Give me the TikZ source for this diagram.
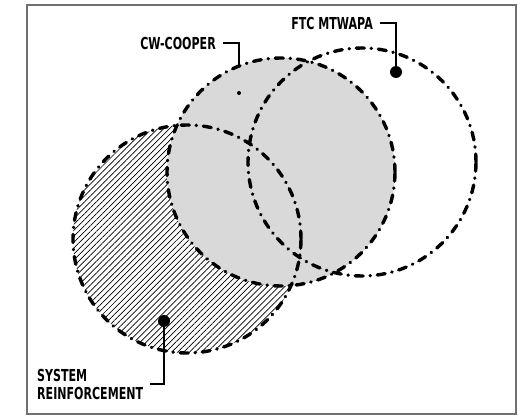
\documentclass[tikz,border=0pt]{standalone}
\usepackage{fontspec}
\setmainfont{DejaVu Sans}[FakeStretch=0.67]
\usetikzlibrary{patterns.meta}
\definecolor{VennFrame}{HTML}{707070}
\definecolor{VennGrey}{HTML}{D9D9D9}
\definecolor{VennInk}{HTML}{000000}
\tikzset{
  venn ring/.style={
    draw=VennInk,
    line width=3.4pt,
    line cap=round,
    dash pattern=on 8pt off 6.9pt on 0.3pt off 6.9pt
  },
  venn hatch/.style={
    pattern={Lines[angle=45,distance=4.2pt,line width=0.7pt]},
    pattern color=VennInk
  },
  venn shade/.style={fill=VennGrey},
  venn dot/.style={
    circle,
    fill=VennInk,
    inner sep=0pt,
    minimum size=12pt
  },
  venn pin/.style={
    circle,
    fill=VennInk,
    inner sep=0pt,
    minimum size=4pt
  },
  venn label/.style={
    text=VennInk,
    inner xsep=7pt,
    inner ysep=1pt,
    align=left,
    font=\bfseries\fontsize{16.5}{18}\selectfont
  },
  venn leader/.style={draw=VennInk,line width=1.9pt}
}
\begin{document}
\begin{tikzpicture}[x=1pt,y=-1pt]
  \useasboundingbox (0,0) rectangle (525,417);
  \draw[VennFrame,line width=1.5pt] (27,5) rectangle (516,414);

  \coordinate (cw) at (281,172);
  \coordinate (ftc) at (362,162);
  \coordinate (sr) at (187,239);

  \fill[venn hatch] (sr) circle[radius=114pt];
  \fill[venn shade] (cw) circle[radius=114pt];
  \draw[venn ring] (sr) circle[radius=114pt];
  \draw[venn ring] (cw) circle[radius=114pt];
  \draw[venn ring] (ftc) circle[radius=114pt];

  \node[venn dot] (ftcdot) at (396,72) {};
  \node[venn dot] (srdot) at (164,321) {};
  \node[venn pin] (cwpin) at (239,93) {};
  \coordinate (cwtip) at (239,65);

  \node[venn label,anchor=east] (ftclabel) at (380,23) {FTC MTWAPA};
  \node[venn label,anchor=east] (cwlabel) at (223,43) {CW-COOPER};
  \node[venn label,anchor=west,inner xsep=0pt] (srlabel) at (37,384) {SYSTEM\\REINFORCEMENT};
  \coordinate (srend) at (150,384);

  \draw[venn leader] (ftclabel.east) -| (ftcdot);
  \draw[venn leader] (cwlabel.east) -| (cwtip);
  \draw[venn leader] (srdot) |- (srend);
\end{tikzpicture}
\end{document}
